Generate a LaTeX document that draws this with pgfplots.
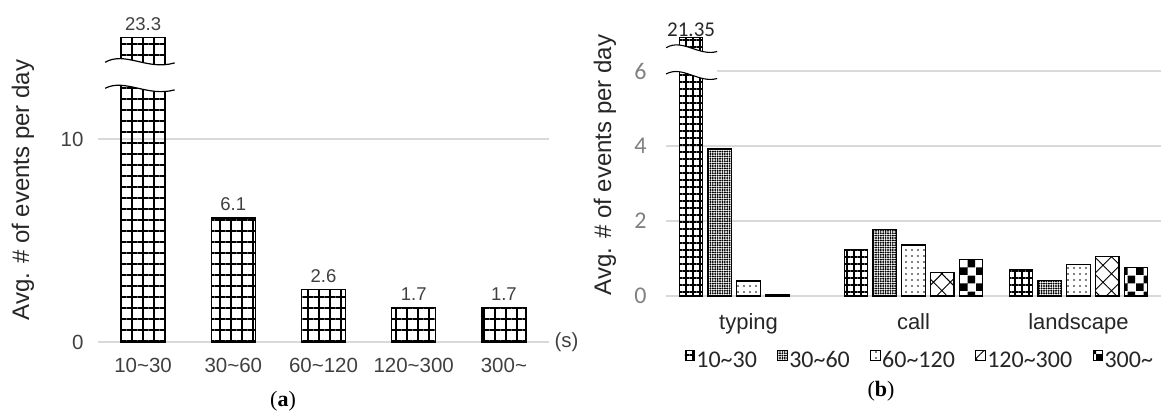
\documentclass[border=0pt]{standalone}
\usepackage{fontspec}
\setmainfont{Liberation Sans}
\newfontfamily\carlito{Carlito}
\newfontfamily\lserif{Liberation Serif}
\usepackage{pgfplots}
\pgfplotsset{compat=1.18}
\usepackage{pgfplotstable}
\usetikzlibrary{patterns,patterns.meta}

\pgfdeclarepatternformonly{bigcheck}{\pgfqpoint{0pt}{0pt}}{\pgfqpoint{16pt}{16pt}}{\pgfqpoint{16pt}{16pt}}{%
 \pgfpathrectangle{\pgfqpoint{0pt}{0pt}}{\pgfqpoint{8pt}{8pt}}%
 \pgfpathrectangle{\pgfqpoint{8pt}{8pt}}{\pgfqpoint{8pt}{8pt}}%
 \pgfusepath{fill}}

\definecolor{gridgray}{HTML}{D9D9D9}
\definecolor{txtdark}{HTML}{404040}
\definecolor{txtgray}{HTML}{808080}

% panel (a): bar height drawn (axis is cut at 15), label = true value
\pgfplotstableread{
x y lab
0 15 23.3
1 6.1 6.1
2 2.6 2.6
3 1.7 1.7
4 1.7 1.7
}\dataA

% panel (b): one table per duration class; x: 0 typing, 1 call, 2 landscape
\pgfplotstableread{
x y
0 3.92
1 1.78
2 0.41
}\bB
\pgfplotstableread{
x y
0 0.40
1 1.36
2 0.85
}\bC
\pgfplotstableread{
x y
0 0.05
1 0.63
2 1.05
}\bD
\pgfplotstableread{
x y
1 0.98
2 0.75
}\bE

\pgfplotsset{
 mylegend/.style={legend image code/.code={\draw[##1, line width=0.8pt] (0pt,0.5pt) rectangle (9.5pt,10pt);}},
}

\begin{document}
\begin{tikzpicture}
\useasboundingbox (0,0) rectangle (1169pt,418pt);

% ---------------- panel (a) ----------------
\begin{axis}[
 at={(98pt,76pt)}, anchor=south west,
 scale only axis, width=451pt, height=304.5pt,
 xmin=-0.5, xmax=4.5, ymin=0, ymax=15,
 clip=false,
 ybar, bar width=44pt,
 axis line style={draw=none}, major tick length=0pt,
 xtick={0,1,2,3,4},
 xticklabels={10\textasciitilde30,30\textasciitilde60,60\textasciitilde120,120\textasciitilde300,300\textasciitilde},
 xticklabel style={font=\fontsize{20.5}{24}\selectfont, text=txtdark, anchor=base, yshift=-30.5pt},
 ytick={0,10},
 ymajorgrids, grid style={gridgray, line width=1.3pt},
 yticklabel style={font=\fontsize{20.5}{24}\selectfont, text=txtdark, xshift=-11pt},
 /pgf/number format/assume math mode=true,
 nodes near coords, point meta=explicit symbolic,
 nodes near coords style={font=\fontsize{18.5}{22}\selectfont, text=txtdark, yshift=3pt},
]
\addplot[draw=black, line width=1.4pt,
 pattern={Hatch[angle=0,distance=11pt,line width=1.4pt]}]
 table[x=x, y=y, meta=lab] {\dataA};
% axis break on the first bar
\fill[white] (axis cs:-0.42,13.78) .. controls (axis cs:-0.2,14.35) and (axis cs:0.05,13.35) .. (axis cs:0.35,13.75)
 -- (axis cs:0.35,12.42) .. controls (axis cs:0.05,12.05) and (axis cs:-0.2,13.0) .. (axis cs:-0.42,12.5) -- cycle;
\draw[line width=1.2pt] (axis cs:-0.42,13.78) .. controls (axis cs:-0.2,14.35) and (axis cs:0.05,13.35) .. (axis cs:0.35,13.75);
\draw[line width=1.2pt] (axis cs:-0.42,12.5) .. controls (axis cs:-0.2,13.0) and (axis cs:0.05,12.05) .. (axis cs:0.35,12.42);
\end{axis}
\node[rotate=90, font=\fontsize{24}{28}\selectfont, text=black!85] at (23pt,228pt) {Avg. \# of events per day};
\node[anchor=west, font=\fontsize{20.5}{24}\selectfont, text=txtdark] at (551pt,76pt) {(s)};
\node[font=\lserif\fontsize{22}{26}\selectfont] at (283pt,17pt) {(\textbf{a})};

% ---------------- panel (b) ----------------
\begin{axis}[
 at={(666pt,122pt)}, anchor=south west,
 scale only axis, width=495pt, height=262.5pt,
 xmin=-0.5, xmax=2.5, ymin=0, ymax=7,
 clip=false,
 ybar=5.2pt, bar width=23.5pt,
 axis line style={draw=none}, major tick length=0pt,
 xtick={0,1,2}, xticklabels={typing,call,landscape},
 xticklabel style={font=\fontsize{22}{26}\selectfont, text=black!85, anchor=base, yshift=-33pt},
 ytick={0,2,4,6},
 ymajorgrids, grid style={gridgray, line width=1.3pt},
 yticklabel style={font=\carlito\fontsize{24}{28}\selectfont, text=txtgray, xshift=-16pt},
 /pgf/number format/assume math mode=true,
 legend columns=5,
 legend style={draw=none, fill=none, at={(0.5,0)}, anchor=north, yshift=-52pt, xshift=6pt,
   font=\carlito\fontsize{24}{28}\selectfont, text=black!85,
   nodes={inner sep=1.5pt},
   /tikz/every even column/.append style={column sep=19pt}},
]
\addplot[draw=black, line width=1.2pt,
 pattern={Hatch[angle=0,distance=7pt,line width=1.1pt]},
 nodes near coords, point meta=explicit symbolic,
 nodes near coords style={font=\carlito\fontsize{21}{25}\selectfont, text=black!85, yshift=-3pt}, mylegend]
 coordinates {(0,6.9) [21.35] (1,1.24) [] (2,0.71) []};
\addplot[draw=black, line width=1.2pt,
 pattern={Dots[distance=2.4pt,radius=1.1pt]}, mylegend]
 table[x=x, y=y] {\bB};
\addplot[draw=black, line width=1.2pt,
 pattern={Dots[distance=6pt,radius=0.9pt]}, mylegend]
 table[x=x, y=y] {\bC};
\addplot[draw=black, line width=1.2pt,
 pattern={Hatch[angle=45,distance=12pt,line width=0.9pt]}, mylegend]
 table[x=x, y=y] {\bD};
\addplot[draw=black, line width=1.2pt,
 pattern=bigcheck, mylegend]
 table[x=x, y=y] {\bE};
\legend{10\textasciitilde30,30\textasciitilde60,60\textasciitilde120,120\textasciitilde300,300\textasciitilde}
% axis break on the first typing bar
\fill[white] (axis cs:-0.5,6.62) .. controls (axis cs:-0.4,6.88) and (axis cs:-0.3,6.38) .. (axis cs:-0.19,6.52)
 -- (axis cs:-0.19,5.8) .. controls (axis cs:-0.3,5.66) and (axis cs:-0.4,6.16) .. (axis cs:-0.5,5.92) -- cycle;
\draw[line width=1.1pt] (axis cs:-0.5,6.62) .. controls (axis cs:-0.4,6.88) and (axis cs:-0.3,6.38) .. (axis cs:-0.19,6.52);
\draw[line width=1.1pt] (axis cs:-0.5,5.92) .. controls (axis cs:-0.4,6.16) and (axis cs:-0.3,5.66) .. (axis cs:-0.19,5.8);
\end{axis}
\node[rotate=90, font=\fontsize{24}{28}\selectfont, text=black!85] at (605pt,253pt) {Avg. \# of events per day};
\node[font=\lserif\fontsize{22}{26}\selectfont] at (881pt,27pt) {(\textbf{b})};
\end{tikzpicture}
\end{document}
